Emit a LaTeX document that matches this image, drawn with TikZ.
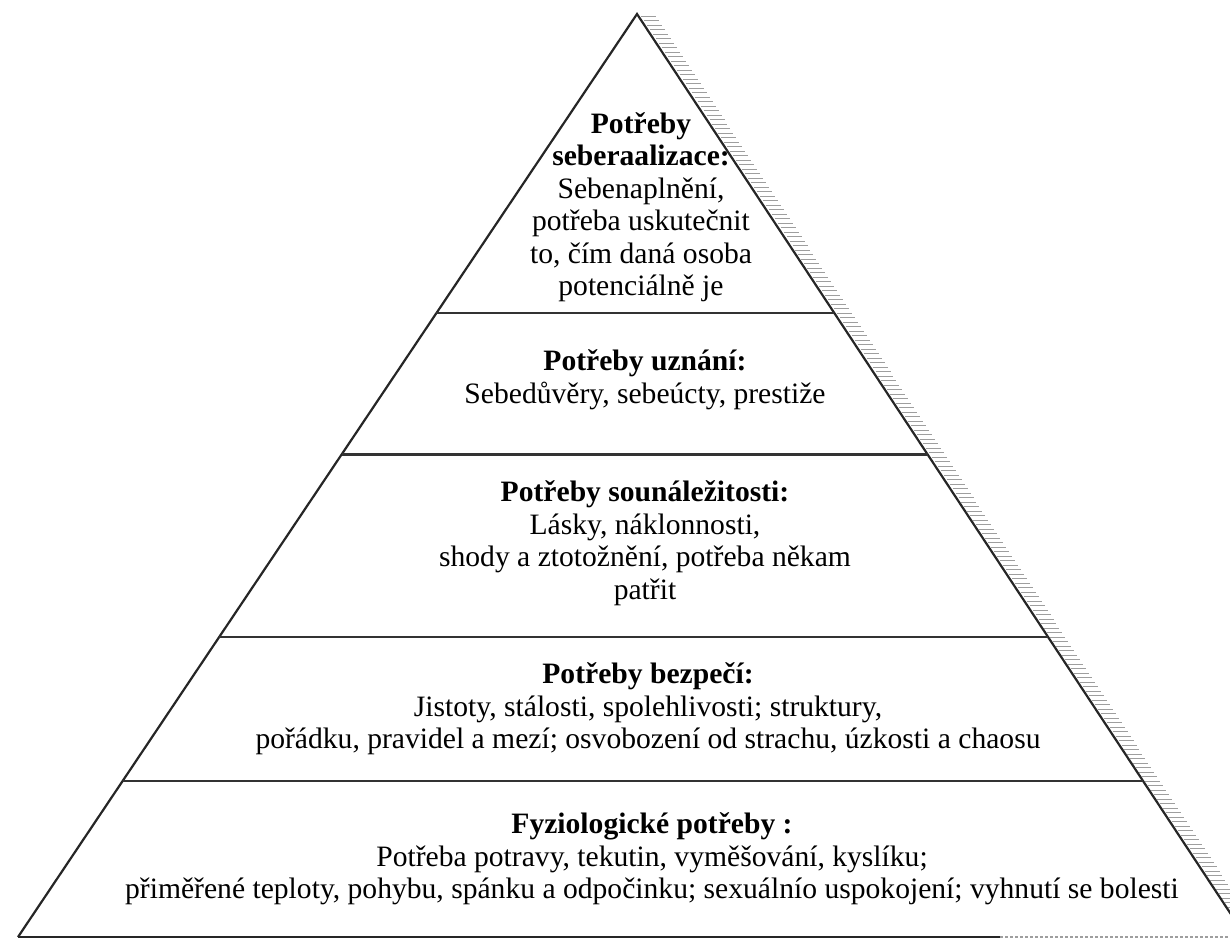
\documentclass[tikz,border=0pt]{standalone}
\usepackage{fontspec}
\setmainfont{Liberation Serif}
\usetikzlibrary{calc}

\begin{document}
\begin{tikzpicture}[x=1pt, y=-1pt,
  edge/.style={line width=2.2pt, black!85},
  tier/.style={line width=2.8pt, black!80},
  hatch/.style={line width=0.8pt, black!38},
  need/.style={align=center, inner sep=0pt,
    font=\fontsize{29.6}{32.5}\selectfont}]
  \useasboundingbox (0,0) rectangle (1230,940);
  \clip (0,0) rectangle (1230,940);

  \coordinate (apex) at (637,14);
  \coordinate (bl) at (18,937);
  \coordinate (br) at (1246,937);

  % shading strip along the right side
  \foreach \yy [evaluate=\yy as \xx using {637+0.6587*(\yy-14)}] in {16,20.5,...,940}
    \draw[hatch] (\xx+3,\yy) -- ++(15,0);

  % outline
  \draw[edge] (bl) -- (apex) -- (br);
  \draw[edge] (bl) -- ($(bl)!0.8!(br)$) coordinate (bm);
  \draw[hatch, line width=1.5pt, dash pattern=on 3pt off 2pt] (bm) -- (br);

  % tiers
  \foreach \t in {0.324,0.477,0.675,0.831}
    \draw[tier] ($(apex)!\t!(bl)$) -- ($(apex)!\t!(br)$);

  % texts
  \node[need] (selfact) at (641,207) {\textbf{Potřeby}\\
    \textbf{seberaalizace:}\\ Sebenaplnění,\\ potřeba uskutečnit\\
    to, čím daná osoba\\ potenciálně je};
  \node[need] (esteem) at (645,380) {\textbf{Potřeby uznání:}\\
    Sebedůvěry, sebeúcty, prestiže};
  \node[need] (belong) at (645,543) {\textbf{Potřeby sounáležitosti:}\\
    Lásky, náklonnosti,\\ shody a ztotožnění, potřeba někam\\ patřit};
  \node[need] (safety) at (648,709) {\textbf{Potřeby bezpečí:}\\
    Jistoty, stálosti, spolehlivosti; struktury,\\
    pořádku, pravidel a mezí; osvobození od strachu, úzkosti a chaosu};
  \node[need] (physio) at (652,859) {\textbf{Fyziologické potřeby :}\\
    Potřeba potravy, tekutin, vyměšování, kyslíku;\\
    přiměřené teploty, pohybu, spánku a odpočinku; sexuálnío uspokojení; vyhnutí se bolesti};
\end{tikzpicture}
\end{document}
